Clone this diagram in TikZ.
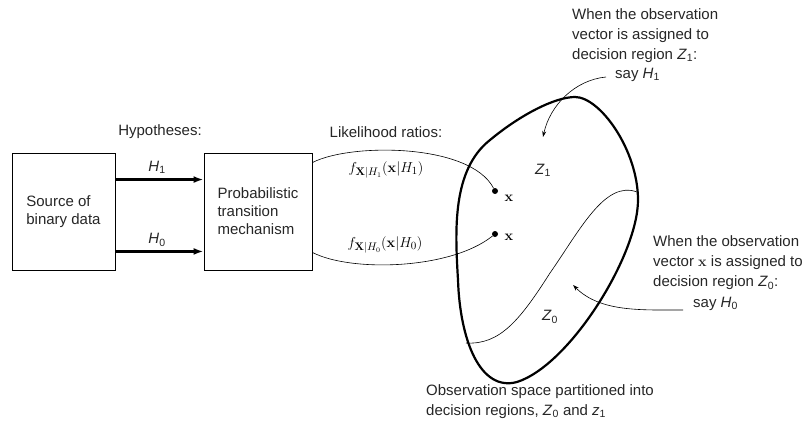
\documentclass[tikz,border=0pt]{standalone}
\usepackage[no-math]{fontspec}
\setmainfont{Liberation Sans}
\usetikzlibrary{arrows.meta}
\newcommand{\hzsub}[2]{\textit{#1}\textsubscript{#2}}
\begin{document}
\begin{tikzpicture}[x=1pt,y=-1pt,
  txt/.style={font=\fontsize{15}{20}\selectfont, inner sep=0pt, align=left, text=black!85},
  boxnode/.style={draw, line width=0.9pt, font=\fontsize{15}{18}\selectfont, align=left, text=black!85, inner sep=0pt},
  bigarrow/.style={line width=2.4pt, -{Latex[length=10pt,width=7pt]}},
  thinline/.style={line width=0.6pt},
  tarrow/.style={line width=0.6pt, -{Stealth[length=6pt,width=4pt]}},
  dotnode/.style={circle, fill, inner sep=0pt, minimum size=6pt},
  mathlbl/.style={font=\fontsize{15}{17}\selectfont, inner sep=0pt}]
\useasboundingbox (0,0) rectangle (808,423);

% boxes
\node[boxnode, minimum width=103pt, minimum height=117pt] (src) at (63.5,211.5) {Source of\\binary data};
\node[boxnode, minimum width=108pt, minimum height=117pt] (ptm) at (258,211.5) {Probabilistic\\transition\\mechanism};

% hypothesis arrows
\draw[bigarrow] ([yshift=-27pt]src.north east) -- ([yshift=-27pt]ptm.north west);
\draw[bigarrow] ([yshift=19pt]src.south east) -- ([yshift=19pt]ptm.south west);
\node[txt] (hyp) at (160,132) {Hypotheses:};
\node[txt] (h1) at (157,167) {\hzsub{H}{1}};
\node[txt] (h0) at (157,240) {\hzsub{H}{0}};

% likelihood
\node[txt] (lr) at (386,132) {Likelihood ratios:};
\node[dotnode] (d1) at (495,191) {};
\node[dotnode] (d0) at (495,234) {};
\node[mathlbl] (x1) at (509,198) {$\mathbf{x}$};
\node[mathlbl] (x0) at (509,237) {$\mathbf{x}$};
\draw[thinline] ([yshift=-10pt]ptm.north east) .. controls (350,143) and (470,143) .. (d1);
\draw[thinline] ([yshift=18pt]ptm.south east) .. controls (350,272) and (450,270) .. (d0);
\node[mathlbl] (f1) at (386,170) {$f_{\mathbf{X}|H_1}(\mathbf{x}|H_1)$};
\node[mathlbl] (f0) at (385,245) {$f_{\mathbf{X}|H_0}(\mathbf{x}|H_0)$};

% observation space
\draw[line width=2.2pt] (575,97) .. controls (600,97) and (638,150) .. (638,200)
  .. controls (638,255) and (570,365) .. (517,382)
  .. controls (480,392) and (460,340) .. (458,280)
  .. controls (455,230) and (452,170) .. (490,140)
  .. controls (520,115) and (555,97) .. cycle;
\draw[thinline] (637,192) .. controls (605,180) and (580,230) .. (550,273)
  .. controls (520,320) and (500,345) .. (466,343);
\node[txt] (z1) at (543,170) {\hzsub{Z}{1}};
\node[txt] (z0) at (550,317) {\hzsub{Z}{0}};

% annotations
\node[txt, anchor=west] (t1) at (572,35.5) {When the observation\\vector is assigned to\\decision region \hzsub{Z}{1}:};
\node[txt, anchor=west] (s1) at (615,75) {say \hzsub{H}{1}};
\coordinate (a1) at (543,137);
\draw[tarrow] ([xshift=-9pt,yshift=-2pt]s1.west) .. controls (575,80) and (550,105) .. (a1);

\node[txt, anchor=west] (t0) at (653,263) {When the observation\\vector $\mathbf{x}$ is assigned to\\decision region \hzsub{Z}{0}:};
\node[txt, anchor=west] (s0) at (693,304) {say \hzsub{H}{0}};
\coordinate (a0) at (573,285);
\draw[tarrow] ([xshift=-10pt,yshift=-6pt]s0.west) .. controls (640,310) and (600,312) .. (a0);

\node[txt, anchor=west] (bt) at (426,401.5) {Observation space partitioned into\\decision regions, \hzsub{Z}{0} and \textit{z}\textsubscript{1}};
\end{tikzpicture}
\end{document}
